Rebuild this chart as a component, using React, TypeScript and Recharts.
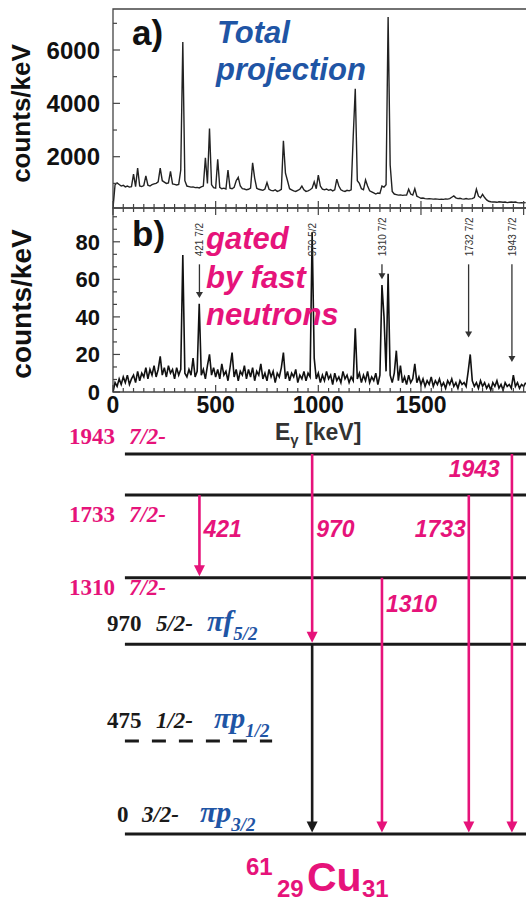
import React from "react";
import {
  ComposedChart,
  LineChart,
  Line,
  XAxis,
  YAxis,
  ReferenceArea,
  ReferenceLine,
} from "recharts";

const PINK = "#e6137a";
const BLUE = "#1f55a5";
const INK = "#1a1a1a";
const SANS = "'Liberation Sans', Arial, sans-serif";
const SERIF = "'Liberation Serif', 'Times New Roman', serif";

// both spectra are binned in 10 keV steps starting at 0 keV
const BIN_KEV = 10;

// a) total projection, counts/keV
const TOTAL_PROJECTION = [
  80, 950, 1020, 960, 900, 930, 870, 900, 860, 880,
  1350, 880, 1570, 900, 880, 920, 1280, 930, 900, 950,
  980, 1000, 1060, 1570, 1100, 1050, 1000, 1020, 1450, 980,
  960, 940, 960, 1500, 6300, 1100, 900, 880, 860, 870,
  840, 850, 830, 870, 900, 1960, 1000, 3060, 950, 840,
  820, 1900, 850, 800, 820, 790, 1500, 820, 800, 850,
  1100, 1230, 900, 800, 790, 760, 780, 820, 1770, 1200,
  820, 780, 760, 740, 790, 1030, 780, 740, 720, 760,
  700, 730, 780, 2600, 1380, 1100, 800, 760, 720, 700,
  740, 780, 900, 760, 700, 720, 760, 820, 1060, 800,
  1310, 900, 780, 760, 790, 740, 770, 720, 760, 1160,
  900, 760, 720, 700, 740, 720, 760, 2750, 4550, 1100,
  1000, 800, 760, 1130, 900, 720, 680, 640, 600, 640,
  620, 900, 860, 950, 7240, 1690, 700, 600, 580, 560,
  570, 550, 560, 560, 780, 600, 560, 800, 520, 480,
  440, 450, 430, 420, 430, 420, 410, 420, 410, 400,
  410, 400, 420, 410, 430, 480, 530, 460, 430, 440,
  420, 410, 430, 410, 420, 430, 470, 780, 520, 460,
  590, 470, 380, 330, 310, 300, 300, 290, 310, 300,
  290, 300, 280, 290, 300, 290, 300, 280, 270, 280,
  270, 280,
];

// b) gated by fast neutrons, counts/keV
const GATED_FAST_NEUTRONS = [
  0, 5, 3, 7, 4, 8, 5, 9, 4, 7,
  9, 5, 11, 6, 10, 8, 13, 7, 12, 9,
  14, 8, 12, 19, 9, 13, 8, 14, 10, 12,
  7, 13, 9, 12, 73, 10, 8, 12, 9, 18,
  8, 11, 47, 9, 12, 7, 14, 20, 9, 13,
  8, 12, 7, 15, 9, 11, 6, 13, 21, 8,
  12, 6, 11, 9, 14, 7, 12, 8, 13, 6,
  11, 9, 15, 7, 10, 6, 12, 8, 11, 5,
  10, 8, 13, 21, 7, 11, 6, 10, 8, 12,
  5, 9, 7, 11, 6, 10, 8, 85, 18, 7,
  10, 5, 9, 6, 11, 7, 9, 4, 10, 6,
  8, 5, 11, 7, 9, 5, 8, 6, 34, 7,
  10, 5, 9, 6, 11, 5, 8, 6, 10, 4,
  9, 57, 40, 11, 63, 9, 5, 10, 22, 6,
  14, 5, 8, 4, 9, 5, 7, 15, 5, 8,
  4, 7, 3, 6, 4, 8, 3, 6, 4, 7,
  3, 5, 2, 6, 4, 7, 3, 5, 2, 6,
  4, 5, 3, 11, 20, 6, 3, 5, 2, 6,
  3, 5, 2, 4, 1, 5, 3, 6, 2, 4,
  1, 5, 3, 4, 2, 9, 3, 5, 2, 4,
  3, 5,
];

const E_MAX = 2372; // keV at the (cropped) right edge of the frames
const A_DOMAIN = [77, 7537];
const B_DOMAIN = [0, 98];

const X_LABELS = [0, 500, 1000, 1500];
const X_TICKS = Array.from({ length: 48 }, (_, i) => i * 50);
const A_TICKS = [1000, 2000, 3000, 4000, 5000, 6000, 7000];
const A_LABELS = [2000, 4000, 6000];
const B_TICKS = [0, 6.67, 13.33, 20, 26.67, 33.33, 40, 46.67, 53.33, 60, 66.67, 73.33, 80, 86.67, 93.33];
const B_LABELS = [0, 20, 40, 60, 80];

// lines marked in the gated spectrum
const GATE_MARKS = [
  { e: 421, text: "421 7/2", tip: 50 },
  { e: 970, text: "970 5/2", tip: null },
  { e: 1310, text: "1310 7/2", tip: 60 },
  { e: 1732, text: "1732 7/2", tip: 29 },
  { e: 1943, text: "1943 7/2", tip: 16 },
];
const MARK_TOP = 68;

// 61Cu level scheme
const LEVELS = [
  { energy: 1943, spin: "7/2-", orbital: null, seen: true },
  { energy: 1733, spin: "7/2-", orbital: null, seen: true },
  { energy: 1310, spin: "7/2-", orbital: null, seen: true },
  { energy: 970, spin: "5/2-", orbital: ["f", "5/2"], seen: false },
  { energy: 475, spin: "1/2-", orbital: ["p", "1/2"], seen: false, dashed: true },
  { energy: 0, spin: "3/2-", orbital: ["p", "3/2"], seen: false },
];
const GAMMAS = [
  { eg: 421, from: 1733, to: 1310, seen: true },
  { eg: 970, from: 1943, to: 970, seen: true },
  { eg: 970, from: 970, to: 0, seen: false },
  { eg: 1310, from: 1310, to: 0, seen: true },
  { eg: 1733, from: 1733, to: 0, seen: true },
  { eg: 1943, from: 1943, to: 0, seen: true },
];

// layout of the scheme labels (px offsets)
const LEVEL_X0 = 58;
const DASH_END = 775;
const LEVEL_LABEL_POS: Record<number, any> = {
  1943: { num: -10, anchor: "end", spin: 4, orb: 0, dy: -10 },
  1733: { num: -10, anchor: "end", spin: 4, orb: 0, dy: 27 },
  1310: { num: -10, anchor: "end", spin: 4, orb: 0, dy: 17 },
  970: { num: -18, anchor: "start", spin: 31, orb: 82, dy: -13 },
  475: { num: -18, anchor: "start", spin: 31, orb: 89, dy: -13 },
  0: { num: -8, anchor: "start", spin: 17, orb: 75, dy: -12 },
};
const GAMMA_LABEL_POS: Record<string, any> = {
  "1733-1310": { dx: 4, dy: 42, anchor: "start" },
  "1943-970": { dx: 4, dy: 83, anchor: "start" },
  "1310-0": { dx: 4, dy: 34, anchor: "start" },
  "1733-0": { dx: -3, dy: 42, anchor: "end" },
  "1943-0": { dx: -12, dy: 23, anchor: "end" },
};

const rowsA = TOTAL_PROJECTION.map((c, i) => ({ e: i * BIN_KEV, c }));
const rowsB = GATED_FAST_NEUTRONS.map((c, i) => ({ e: i * BIN_KEV, c }));

const YTick = (props: any) => {
  const { x, y, payload, labels, size } = props;
  const v = payload.value;
  const major = labels.some((l: number) => Math.abs(l - v) < 0.01);
  const ax = x + 13;
  return (
    <g>
      <line x1={ax} x2={ax + (major ? 7 : 4)} y1={y} y2={y} stroke="#444" strokeWidth={1.2} />
      {major && (
        <text x={x} y={y} dy="0.36em" textAnchor="end" fontFamily={SANS} fontWeight="bold" fontSize={size} fill="#111">
          {Math.round(v)}
        </text>
      )}
    </g>
  );
};

const XTick = (props: any) => {
  const { x, y, payload, margin, dir, showLabel } = props;
  const v = payload.value;
  const ax = y - margin * dir;
  const len = v % 500 === 0 ? 7 : 4;
  return (
    <g>
      <line x1={x} x2={x} y1={ax} y2={ax - len * dir} stroke="#444" strokeWidth={1.2} />
      {showLabel && X_LABELS.includes(v) && (
        <text x={x} y={y} dy="0.71em" textAnchor="middle" fontFamily={SANS} fontWeight="bold" fontSize={23} fill="#111">
          {v}
        </text>
      )}
    </g>
  );
};

const countsLabel = (size: number, dy: number) => (p: any) => {
  const vb = p.viewBox;
  return (
    <text
      transform={`translate(${vb.x + 21}, ${vb.y + vb.height / 2 + dy}) rotate(-90)`}
      textAnchor="middle"
      dy="0.35em"
      fontFamily={SANS}
      fontWeight="bold"
      fontSize={size}
      fill="#111"
    >
      counts/keV
    </text>
  );
};

const markShape = (m: any) => (p: any) => {
  const { x1, y1, y2 } = p;
  const top = Math.min(y1, y2);
  const bot = Math.max(y1, y2);
  return (
    <g>
      {m.tip != null && (
        <>
          <line x1={x1} x2={x1} y1={top} y2={bot - 5} stroke="#333" strokeWidth={1.3} />
          <polygon points={`${x1 - 3.5},${bot - 6} ${x1 + 3.5},${bot - 6} ${x1},${bot}`} fill="#333" />
        </>
      )}
      <text
        transform={`translate(${x1 + 4}, ${top - 8}) rotate(-90)`}
        fontFamily={SANS}
        fontSize={10}
        fill="#333"
      >
        {m.text}
      </text>
    </g>
  );
};

const levelShape = (lv: any) => (p: any) => {
  const { x1, y1, x2 } = p;
  const pos = LEVEL_LABEL_POS[lv.energy];
  const ty = y1 + pos.dy;
  const col = lv.seen ? PINK : INK;
  return (
    <g>
      <line
        x1={x1}
        x2={x2}
        y1={y1}
        y2={y1}
        stroke={INK}
        strokeWidth={3}
        strokeDasharray={lv.dashed ? "14 13" : undefined}
      />
      <text x={x1 + pos.num} y={ty} textAnchor={pos.anchor} fontFamily={SERIF} fontWeight="bold" fontSize={23} fill={col}>
        {lv.energy}
      </text>
      <text x={x1 + pos.spin} y={ty} fontFamily={SERIF} fontWeight="bold" fontStyle="italic" fontSize={23} fill={col}>
        {lv.spin}
      </text>
      {lv.orbital && (
        <text x={x1 + pos.orb} y={ty} fontFamily={SERIF} fontWeight="bold" fontStyle="italic" fontSize={30} fill={BLUE}>
          {"\u03c0" + lv.orbital[0]}
          <tspan dy={9} fontSize={19}>
            {lv.orbital[1]}
          </tspan>
        </text>
      )}
    </g>
  );
};

const gammaShape = (g: any) => (p: any) => {
  const { x1, y1, y2 } = p;
  const top = Math.min(y1, y2);
  const tip = Math.max(y1, y2) - 1.5;
  const col = g.seen ? PINK : INK;
  const lab = GAMMA_LABEL_POS[`${g.from}-${g.to}`];
  return (
    <g>
      <line x1={x1} x2={x1} y1={top} y2={tip - 9} stroke={col} strokeWidth={2.6} />
      <polygon points={`${x1 - 5.5},${tip - 11} ${x1 + 5.5},${tip - 11} ${x1},${tip}`} fill={col} />
      {lab && (
        <text
          x={x1 + lab.dx}
          y={top + lab.dy}
          textAnchor={lab.anchor}
          fontFamily={SANS}
          fontWeight="bold"
          fontStyle="italic"
          fontSize={23}
          fill={PINK}
        >
          {g.eg}
        </text>
      )}
    </g>
  );
};

export default function App() {
  return (
    <div style={{ position: "absolute", left: 0, top: 0, width: 526, height: 905, overflow: "hidden", background: "#fff" }}>
      {/* a) total projection */}
      <div style={{ position: "absolute", left: 0, top: 0 }}>
        <LineChart width={600} height={216} data={rowsA} margin={{ top: 9, right: 0, bottom: 0, left: 0 }}>
          <XAxis
            dataKey="e"
            type="number"
            domain={[0, E_MAX]}
            allowDataOverflow
            ticks={X_TICKS}
            interval={0}
            height={8}
            tickSize={0}
            tickMargin={0}
            axisLine={false}
            tick={(p: any) => <XTick {...p} margin={0} dir={1} showLabel={false} />}
          />
          <YAxis
            type="number"
            domain={A_DOMAIN}
            allowDataOverflow
            ticks={A_TICKS}
            interval={0}
            width={113}
            tickSize={0}
            tickMargin={13}
            axisLine={false}
            tick={(p: any) => <YTick {...p} labels={A_LABELS} size={24} />}
            label={countsLabel(26, 5)}
          />
          <ReferenceArea x1={0} x2={E_MAX} y1={A_DOMAIN[0]} y2={A_DOMAIN[1]} fill="none" stroke="#444" strokeWidth={1.3} ifOverflow="visible" />
          <Line dataKey="c" type="linear" stroke="#222" strokeWidth={1.4} dot={false} isAnimationActive={false} />
        </LineChart>
      </div>

      {/* b) gated by fast neutrons */}
      <div style={{ position: "absolute", left: 0, top: 200 }}>
        <LineChart width={600} height={250} data={rowsB} margin={{ top: 0, right: 0, bottom: 0, left: 0 }}>
          <XAxis
            xAxisId="top"
            orientation="top"
            dataKey="e"
            type="number"
            domain={[0, E_MAX]}
            allowDataOverflow
            ticks={X_TICKS}
            interval={0}
            height={8}
            tickSize={0}
            tickMargin={0}
            axisLine={false}
            tick={(p: any) => <XTick {...p} margin={0} dir={-1} showLabel={false} />}
          />
          <XAxis
            dataKey="e"
            type="number"
            domain={[0, E_MAX]}
            allowDataOverflow
            ticks={X_TICKS}
            interval={0}
            height={58}
            tickSize={0}
            tickMargin={5}
            axisLine={false}
            tick={(p: any) => <XTick {...p} margin={5} dir={1} showLabel />}
            label={(p: any) => (
              <text x={p.viewBox.x + 162} y={p.viewBox.y + 48} fontFamily={SANS} fontWeight="bold" fontSize={23} fill="#333">
                E
                <tspan dy={5} fontSize={15}>
                  {"\u03b3"}
                </tspan>
                <tspan dy={-5}> [keV]</tspan>
              </text>
            )}
          />
          <YAxis
            type="number"
            domain={B_DOMAIN}
            allowDataOverflow
            ticks={B_TICKS}
            interval={0}
            width={113}
            tickSize={0}
            tickMargin={13}
            axisLine={false}
            tick={(p: any) => <YTick {...p} labels={B_LABELS} size={22} />}
            label={countsLabel(28, 4)}
          />
          <ReferenceArea x1={0} x2={E_MAX} y1={B_DOMAIN[0]} y2={B_DOMAIN[1]} fill="none" stroke="#444" strokeWidth={1.3} ifOverflow="visible" />
          <Line dataKey="c" type="linear" stroke="#111" strokeWidth={1.6} dot={false} isAnimationActive={false} />
          {GATE_MARKS.map((m) => (
            <ReferenceLine
              key={m.e}
              segment={[
                { x: m.e, y: MARK_TOP },
                { x: m.e, y: m.tip ?? MARK_TOP },
              ]}
              ifOverflow="visible"
              shape={markShape(m)}
            />
          ))}
        </LineChart>
      </div>

      {/* level scheme */}
      <div style={{ position: "absolute", left: 0, top: 420 }}>
        <ComposedChart width={600} height={440} data={LEVELS} margin={{ top: 34, right: 0, bottom: 26, left: 113 }}>
          <XAxis type="number" dataKey="energy" domain={[0, E_MAX]} allowDataOverflow hide />
          <YAxis type="number" domain={[0, 1943]} allowDataOverflow hide />
          {LEVELS.map((lv) => (
            <ReferenceLine
              key={"lv" + lv.energy}
              segment={[
                { x: LEVEL_X0, y: lv.energy },
                { x: lv.dashed ? DASH_END : E_MAX, y: lv.energy },
              ]}
              ifOverflow="visible"
              shape={levelShape(lv)}
            />
          ))}
          {GAMMAS.map((g) => (
            <ReferenceLine
              key={`g${g.from}-${g.to}`}
              segment={[
                { x: g.eg, y: g.from },
                { x: g.eg, y: g.to },
              ]}
              ifOverflow="visible"
              shape={gammaShape(g)}
            />
          ))}
        </ComposedChart>
      </div>

      {/* panel annotations and nucleus title */}
      <svg width={526} height={905} style={{ position: "absolute", left: 0, top: 0, pointerEvents: "none" }}>
        <text x={132} y={45} fontFamily={SANS} fontWeight="bold" fontSize={35} fill="#111">a)</text>
        <text fontFamily={SANS} fontWeight="bold" fontStyle="italic" fontSize={31} fill={BLUE}>
          <tspan x={217} y={43}>Total</tspan>
          <tspan x={216} y={80}>projection</tspan>
        </text>
        <text x={132} y={246} fontFamily={SANS} fontWeight="bold" fontSize={35} fill="#111">b)</text>
        <text fontFamily={SANS} fontWeight="bold" fontStyle="italic" fontSize={31} fill={PINK}>
          <tspan x={206} y={249}>gated</tspan>
          <tspan x={206} y={288}>by fast</tspan>
          <tspan x={206} y={325}>neutrons</tspan>
        </text>
        <g fontFamily={SANS} fontWeight="bold" fill={PINK}>
          <text x={246} y={875} fontSize={24}>61</text>
          <text x={277} y={897} fontSize={24}>29</text>
          <text x={307} y={891} fontSize={41}>Cu</text>
          <text x={362} y={897} fontSize={24}>31</text>
        </g>
      </svg>
    </div>
  );
}
